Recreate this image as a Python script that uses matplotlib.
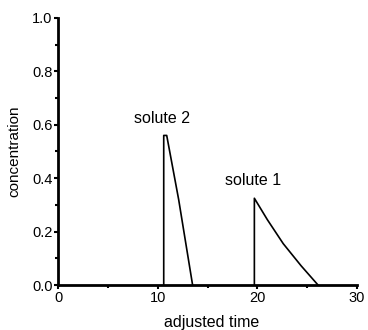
import matplotlib
matplotlib.use("Agg")
from matplotlib import pyplot as plt
from matplotlib.ticker import MultipleLocator

# solute 2 (sharp front, short tail)
SOLUTE2_T = [10.6, 10.6, 10.9, 12.1, 13.5]
SOLUTE2_C = [0.0, 0.56, 0.56, 0.32, 0.0]
# solute 1
SOLUTE1_T = [19.7, 19.7, 21.0, 22.6, 24.4, 26.1]
SOLUTE1_C = [0.0, 0.325, 0.245, 0.155, 0.072, 0.0]

LABELS = ["solute 2", "solute 1"]
LABEL_POS = [(10.4, 0.625), (19.6, 0.393)]

RCPARAMS = {
    "font.family": "sans-serif",
    "font.sans-serif": ["Liberation Sans", "DejaVu Sans"],
    "font.size": 10,
}


def main():
    for key in RCPARAMS:
        plt.rcParams[key] = RCPARAMS[key]
    fig = plt.figure(figsize=(3.68, 3.30), dpi=100)
    ax = fig.add_axes([0.158, 0.136, 0.812, 0.81])
    ax.plot(SOLUTE2_T, SOLUTE2_C, color="black", linewidth=1.2)
    ax.plot(SOLUTE1_T, SOLUTE1_C, color="black", linewidth=1.2)
    for text, (x, y) in zip(LABELS, LABEL_POS):
        ax.text(x, y, text, ha="center", va="center", fontsize=11.5)
    ax.set_xlim(0, 30)
    ax.set_ylim(0, 1.0)
    ax.xaxis.set_major_locator(MultipleLocator(10))
    ax.xaxis.set_minor_locator(MultipleLocator(5))
    ax.yaxis.set_major_locator(MultipleLocator(0.2))
    ax.yaxis.set_minor_locator(MultipleLocator(0.1))
    ax.yaxis.set_major_formatter(plt.FuncFormatter(lambda v, p: f"{v:.1f}"))
    ax.spines["top"].set_visible(False)
    ax.spines["right"].set_visible(False)
    ax.spines["left"].set_linewidth(2)
    ax.spines["bottom"].set_linewidth(2)
    ax.tick_params(which="major", length=3, width=1.5, pad=1, labelsize=10.5)
    ax.tick_params(which="minor", length=2, width=1.5)
    ax.set_xlabel("adjusted time", fontsize=11.5, va="center")
    ax.set_ylabel("concentration", fontsize=11, va="center")
    ax.xaxis.set_label_coords(0.514, -0.139)
    ax.yaxis.set_label_coords(-0.147, 0.5)
    fig.savefig("out.png", dpi=100)
    plt.close(fig)


if __name__ == "__main__":
    main()
